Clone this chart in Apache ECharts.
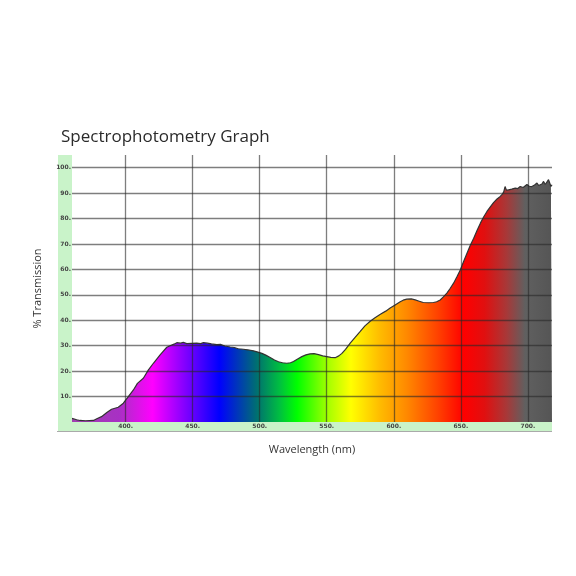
<!DOCTYPE html>
<html>
<head>
<meta charset="utf-8">
<script src="https://cdn.jsdelivr.net/npm/echarts@6/dist/echarts.min.js"></script>
<style>html,body{margin:0;padding:0;background:#fff;}#c{width:576px;height:576px;}</style>
</head>
<body>
<div id="c"></div>
<script>
var wavelengths = [360,361,363.5,366,370,376,378.5,382,386,389.5,392,394.5,398.3,402,405.8,408.8,413.2,417,420.7,425.7,430.7,434.4,436,438.2,441,443,445.6,449,453,456,458,461,464,468,471,474,478,481,484,487.8,491,495.3,498,501.6,504.5,507.8,511,514,517,520.2,523,525.2,528,531.4,534.5,537.6,540.5,543.8,547,550,553,556.3,559,561.3,564,567.5,571,575,578.5,582.4,586,590,594,597.3,601,604.8,607,609.7,613,616,619,622,626,629.6,632,634.6,637,639.6,642,644.6,647,649.6,652,654.6,657,659.6,662,664.6,667,669.5,672,674.4,677,679.4,681,682,683,684,685.6,688,690.6,692.5,694.3,696.5,699.3,701,703,705,706.8,708,709.2,710.5,711.7,713,714.2,715.4,716.3,717.2,718];
var transmission = [1.4,1.6,0.9,0.6,0.5,0.6,1.3,2.1,3.7,5.0,5.4,5.8,7.4,10.0,12.6,15.2,17.2,20.5,23.1,26.4,29.4,30.3,30.6,31.2,31.0,31.3,30.8,30.9,31.0,30.8,31.2,31.0,30.7,30.4,30.5,29.9,29.5,29.3,28.8,28.6,28.4,28.0,27.6,27.0,26.3,25.4,24.4,23.7,23.3,23.1,23.3,23.8,24.7,25.7,26.4,26.8,26.9,26.5,26.0,25.7,25.4,25.3,26.0,27.0,28.6,31.0,33.2,35.6,37.8,39.6,41.0,42.4,43.6,44.8,46.0,47.3,47.9,48.3,48.4,48.0,47.5,47.0,46.9,47.0,47.3,48.0,49.2,50.7,52.5,54.6,57.0,59.8,63.0,66.4,69.4,72.3,75.2,78.2,80.6,82.8,84.6,86.3,87.7,88.7,89.6,90.5,92.6,91.2,91.3,91.6,92.0,91.8,92.6,92.2,93.4,92.7,92.6,93.2,94.0,93.0,92.7,93.6,94.6,93.4,93.0,95.3,94.0,92.6,93.3];
var xRange = [360, 718];
var yRange = [0, 105];
var titleText = 'Spectrophotometry Graph';
var xName = 'Wavelength (nm)';
var yName = '% Transmission';

var seriesData = wavelengths.map(function (w, i) { return [w, transmission[i]]; });
var stripColor = '#c9f3c9';
var gridColor = 'rgba(40,40,40,0.6)';
var labelFmt = function (v) { return v + '.'; };

var chart = echarts.init(document.getElementById('c'));
chart.setOption({
  animation: false,
  title: {
    text: titleText, left: 56, top: 124,
    textStyle: { fontFamily: 'Open Sans', fontSize: 17, fontWeight: 'normal', color: '#2b2b2b' }
  },
  grid: { left: 72, right: 24, top: 155, bottom: 154 },
  xAxis: {
    type: 'value', min: xRange[0], max: xRange[1], splitNumber: 7, minInterval: 50, maxInterval: 50,
    z: 3, offset: 4.5,
    name: xName, nameLocation: 'middle', nameGap: 18,
    nameTextStyle: { fontFamily: 'Open Sans', fontSize: 11, color: '#333' },
    axisLine: { show: true, onZero: false, lineStyle: { color: stripColor, width: 9, cap: 'butt' } },
    axisTick: { show: false },
    axisLabel: { formatter: labelFmt, showMinLabel: false, showMaxLabel: false, margin: 0, verticalAlign: 'middle',
      fontSize: 6, fontWeight: 'bold', color: '#444', fontFamily: 'DejaVu Sans' },
    splitLine: { show: true, showMinLine: false, showMaxLine: false, lineStyle: { color: gridColor, width: 1.3 } }
  },
  yAxis: {
    type: 'value', min: yRange[0], max: yRange[1], interval: 10,
    z: 3, offset: 7,
    name: yName, nameLocation: 'middle', nameGap: 22,
    nameTextStyle: { fontFamily: 'Open Sans', fontSize: 11, color: '#333' },
    axisLine: { show: true, onZero: false, lineStyle: { color: stripColor, width: 14, cap: 'butt' } },
    axisTick: { show: false },
    axisLabel: { formatter: labelFmt, showMinLabel: false, showMaxLabel: false, margin: -6, align: 'right',
      fontSize: 6, fontWeight: 'bold', color: '#444', fontFamily: 'DejaVu Sans' },
    splitLine: { show: true, showMinLine: false, showMaxLine: false, lineStyle: { color: gridColor, width: 1.3 } }
  },
  graphic: [
    { type: 'rect', shape: { x: 58, y: 422, width: 14, height: 9 }, style: { fill: stripColor }, z: 1 },
    { type: 'line', shape: { x1: 57, y1: 431.5, x2: 552, y2: 431.5 }, style: { stroke: '#aaa', lineWidth: 1 }, z: 1 }
  ],
  series: [{
    type: 'line', data: seriesData, showSymbol: false, z: 2,
    lineStyle: { color: '#333', width: 1.2 },
    areaStyle: {
      opacity: 1,
      color: new echarts.graphic.LinearGradient(0, 0, 1, 0, [
        { offset: 0.000, color: '#a040b0' },
        { offset: 0.098, color: '#a830c4' },
        { offset: 0.168, color: '#ff00ff' },
        { offset: 0.223, color: '#9900ff' },
        { offset: 0.307, color: '#0000ff' },
        { offset: 0.385, color: '#007070' },
        { offset: 0.433, color: '#00c040' },
        { offset: 0.469, color: '#00ff00' },
        { offset: 0.536, color: '#aaff00' },
        { offset: 0.581, color: '#ffff00' },
        { offset: 0.642, color: '#ffbb00' },
        { offset: 0.698, color: '#ff8800' },
        { offset: 0.760, color: '#ff4400' },
        { offset: 0.816, color: '#ff0000' },
        { offset: 0.860, color: '#e01010' },
        { offset: 0.905, color: '#a83838' },
        { offset: 0.944, color: '#606060' },
        { offset: 1.000, color: '#555555' }
      ])
    }
  }]
});
</script>
</body>
</html>
